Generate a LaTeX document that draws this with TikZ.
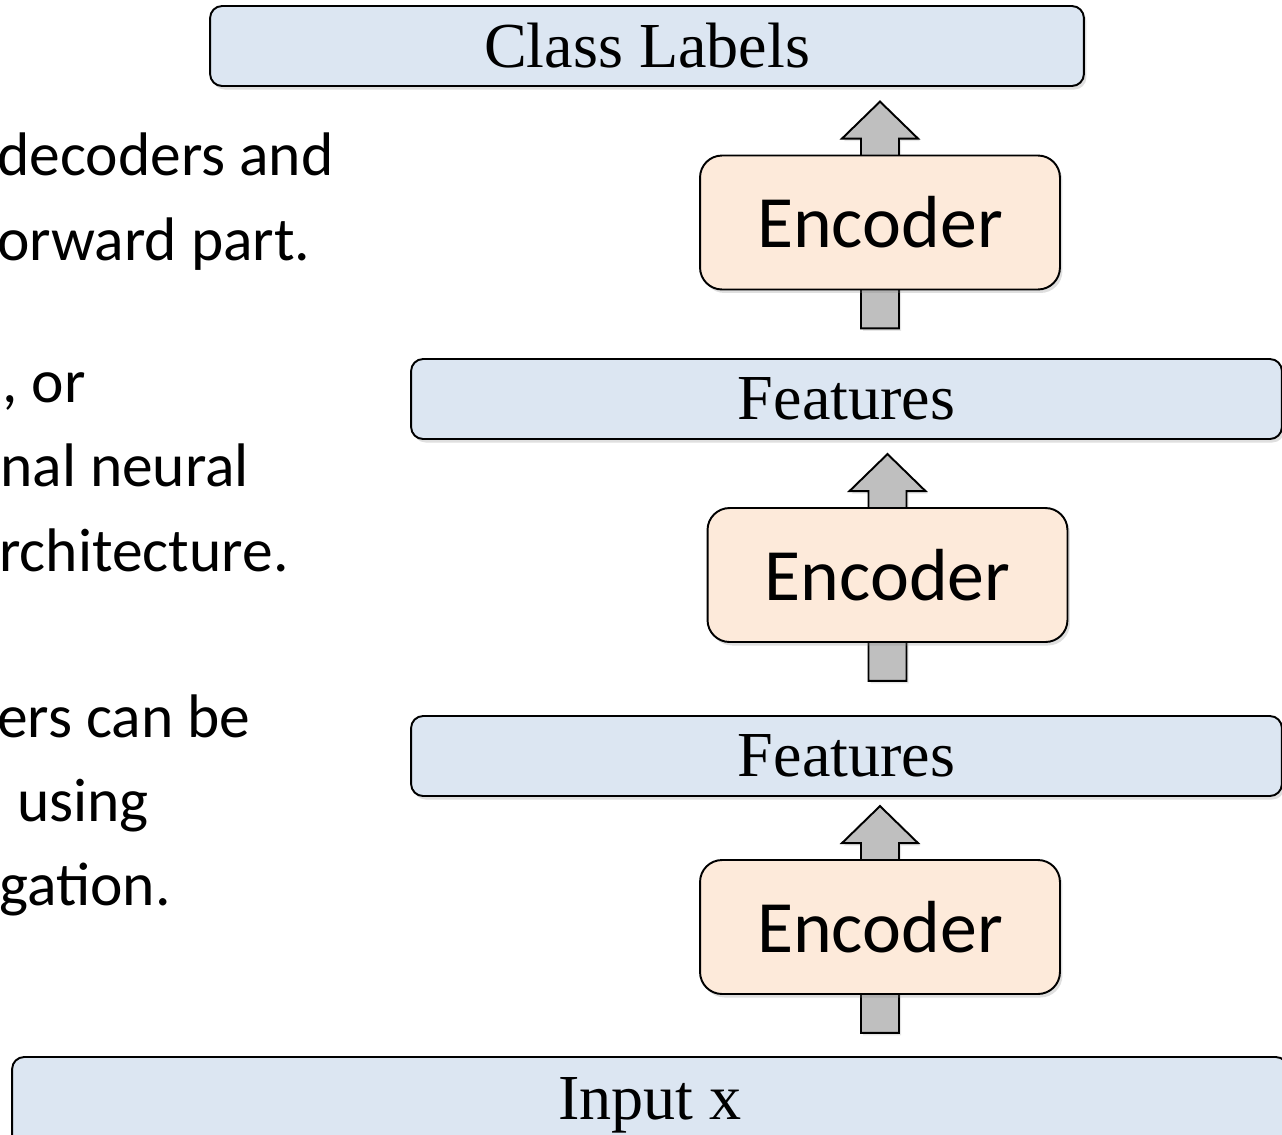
\documentclass[tikz,border=0pt]{standalone}
\usepackage{fontspec}
\setmainfont{Liberation Serif}
\newfontfamily\slidefont{Carlito}
\usetikzlibrary{positioning, calc, shadows, backgrounds}

\definecolor{barblue}{HTML}{DCE6F2}
\definecolor{encpeach}{HTML}{FDEADA}
\definecolor{arrowgrey}{HTML}{BFBFBF}

\begin{document}
\begin{tikzpicture}[
    x=0.02cm, y=-0.02cm,
    bar/.style={
        rectangle,
        draw,
        line width=1.1pt,
        fill=barblue,
        rounded corners=0.24cm,
        minimum height=1.6cm,
        inner sep=0pt,
        font=\fontsize{36.5}{40}\selectfont,
        drop shadow={shadow xshift=0.05cm, shadow yshift=-0.07cm, opacity=0.25}
    },
    encbox/.style={
        rectangle,
        draw,
        line width=1.1pt,
        fill=encpeach,
        rounded corners=0.44cm,
        minimum width=7.2cm,
        minimum height=2.68cm,
        inner sep=0pt,
        font=\slidefont\fontsize{42}{46}\selectfont,
        drop shadow={shadow xshift=0.05cm, shadow yshift=-0.07cm, opacity=0.25}
    },
    blockarrow/.style={
        draw,
        line width=1.1pt,
        fill=arrowgrey,
        line join=miter,
        drop shadow={shadow xshift=0.04cm, shadow yshift=-0.05cm, opacity=0.2}
    },
    slidetext/.style={
        anchor=base west,
        inner sep=0pt,
        font=\slidefont\fontsize{35}{40}\selectfont
    }
]
\clip (0,0) rectangle (1282,1134);

% bullet text cut by the slide crop
\node[slidetext] (txta) at (-3,175) {decoders and};
\node[slidetext] (txtb) at (-3,260) {orward part.};
\node[slidetext] (txtc) at (2,402) {, or};
\node[slidetext] (txtd) at (0,486) {nal neural};
\node[slidetext] (txte) at (-1,571) {rchitecture.};
\node[slidetext] (txtf) at (-3,737) {ers can be};
\node[slidetext] (txtg) at (3,821) {\ using};
\node[slidetext] (txth) at (-1,905) {gation.};

% stack of boxes
\node[bar, minimum width=17.48cm] (labels) at (647,46) {Class Labels};
\node[encbox] (encc) at (880,222.5) {Encoder};
\node[bar, minimum width=17.42cm] (featb) at (846.5,399) {Features};
\node[encbox] (encb) at (887.5,575) {Encoder};
\node[bar, minimum width=17.42cm] (feata) at (846.5,756) {Features};
\node[encbox] (enca) at (880,927) {Encoder};
\node[bar, minimum width=25.52cm, minimum height=1.92cm] (input) at (650,1105) {Input x};

% block arrows behind the encoders
\begin{scope}[on background layer]
\foreach \enc in {enca, encb, encc}{
    \draw[blockarrow] let \p1=(\enc.south), \p2=(\enc.north) in
        (\x1-0.38cm,\y1-0.76cm) -- (\x1-0.38cm,\y2+0.32cm)
        -- (\x1-0.76cm,\y2+0.32cm) -- (\x1,\y2+1.06cm)
        -- (\x1+0.76cm,\y2+0.32cm) -- (\x1+0.38cm,\y2+0.32cm)
        -- (\x1+0.38cm,\y1-0.76cm) -- cycle;
}
\end{scope}

\end{tikzpicture}
\end{document}
